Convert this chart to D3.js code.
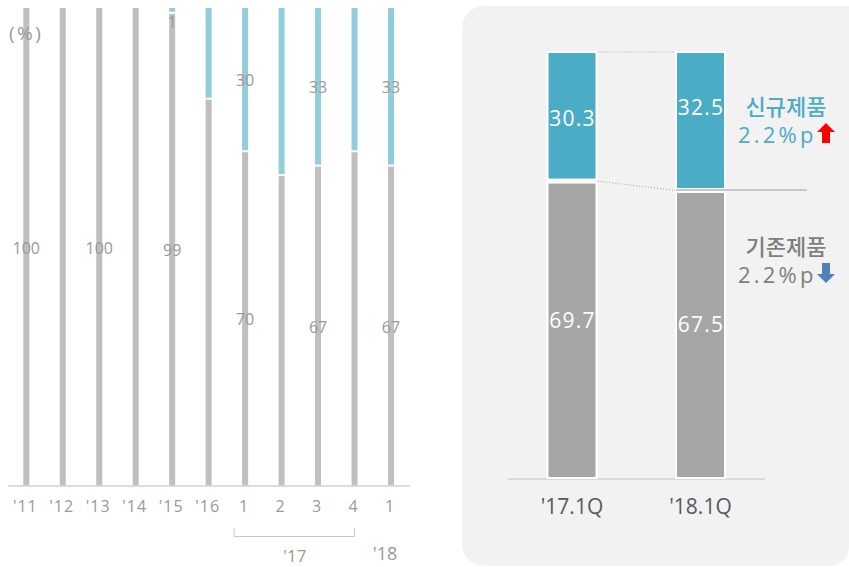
<!DOCTYPE html>
<html><head><meta charset="utf-8">
<script src="https://cdn.jsdelivr.net/npm/d3@7"></script>
<style>
body{margin:0;background:#fff;}
svg{display:block;}
</style></head><body>
<svg id="c" width="849" height="567"></svg>
<script>
// ---- Left chart data ----
const leftCats = ["'11","'12","'13","'14","'15","'16","1","2","3","4","1"];
const leftExisting = [100,100,100,100,99,81,70,65,67,70,67];
const leftNew      = [0,0,0,0,1,19,30,35,33,30,33];
const leftExistingLabels = ["100",null,"100",null,"99",null,"70",null,"67",null,"67"];
const leftNewLabels      = [null,null,null,null,"1",null,"30",null,"33",null,"33"];
const yearGroups = [{label:"'17", from:6, to:9}];
const yearSingle = [{label:"'18", at:10}];

// ---- Right chart data ----
const rightCats = ["'17.1Q","'18.1Q"];
const rightExisting = [69.7,67.5];
const rightNew = [30.3,32.5];
const notes = [
  {title:"신규제품", change:"2.2%p", dir:"up"},
  {title:"기존제품", change:"2.2%p", dir:"down"}
];

const svg = d3.select("#c");
const NUM_FONT = "'Open Sans', 'Noto Sans', sans-serif";
const KR_FONT = "'Noto Sans CJK KR', 'Noto Sans', sans-serif";

// ===== Left chart =====
const idx = d3.range(leftCats.length);
const xL = d3.scalePoint().domain(idx).range([26.3, 391]);
const yL = d3.scaleLinear().domain([0,100]).range([485.5, 8]);
const bw = 6;
const gL = svg.append("g");

// gray (existing)
gL.selectAll("rect.ex").data(idx).join("rect").attr("class","ex")
  .attr("x",i=>xL(i)-bw/2).attr("width",bw)
  .attr("y",i=>yL(leftExisting[i])+ (leftNew[i]>0?1:0))
  .attr("height",i=>yL(0)-yL(leftExisting[i])-(leftNew[i]>0?1:0))
  .attr("fill","#bfbfbf");
// blue (new)
gL.selectAll("rect.nw").data(idx.filter(i=>leftNew[i]>0)).join("rect").attr("class","nw")
  .attr("x",i=>xL(i)-bw/2).attr("width",bw)
  .attr("y",i=>yL(leftExisting[i]+leftNew[i]))
  .attr("height",i=>Math.max(1.5,yL(leftExisting[i])-yL(leftExisting[i]+leftNew[i])-1))
  .attr("fill","#92cddc");

gL.append("text").attr("x",9).attr("y",33).text("(%)")
  .attr("font-family",NUM_FONT).attr("font-size",19).attr("fill","#999").attr("letter-spacing",2.5)
  .attr("dominant-baseline","central");

// axis line
gL.append("line").attr("x1",8).attr("x2",410).attr("y1",486).attr("y2",486)
  .attr("stroke","#d0d0d0").attr("stroke-width",1.5);

const lblStyle = s => s.attr("font-family",NUM_FONT).attr("font-size",16).attr("fill","#999")
  .attr("text-anchor","middle").attr("dominant-baseline","central");

gL.selectAll("text.exl").data(idx.filter(i=>leftExistingLabels[i])).join("text").attr("class","exl")
  .attr("x",i=>xL(i)).attr("y",i=>(yL(leftExisting[i])+yL(0))/2+1)
  .text(i=>leftExistingLabels[i]).call(lblStyle);
gL.selectAll("text.nwl").data(idx.filter(i=>leftNewLabels[i])).join("text").attr("class","nwl")
  .attr("x",i=>xL(i)).attr("y",i=>Math.max(22,(yL(leftExisting[i])+yL(100))/2))
  .text(i=>leftNewLabels[i]).call(lblStyle);

// x tick labels
gL.selectAll("text.xt").data(idx).join("text").attr("class","xt")
  .attr("x",i=>xL(i)-1).attr("y",506).text(i=>leftCats[i]).call(lblStyle).attr("letter-spacing",1);

// bracket for '17
yearGroups.forEach(g=>{
  const x1 = xL(g.from)-11, x2 = xL(g.to);
  gL.append("path").attr("d",`M${x1},528V536.5H${x2}V528`)
    .attr("fill","none").attr("stroke","#c8c8c8").attr("stroke-width",1);
  gL.append("text").attr("x",(x1+x2)/2+0.5).attr("y",555).text(g.label).call(lblStyle).attr("font-size",17);
});
yearSingle.forEach(g=>{
  gL.append("text").attr("x",xL(g.at)-6).attr("y",553).text(g.label).call(lblStyle).attr("font-size",18);
});

// ===== Right panel =====
svg.append("path").attr("fill","#f2f2f2")
  .attr("d", (()=>{const x=462,y=6,w=400,h=560,r=22;
    return `M${x+r},${y}H${x+w}V${y+h}H${x+r}A${r},${r} 0 0 1 ${x},${y+h-r}V${y+r}A${r},${r} 0 0 1 ${x+r},${y}Z`;})());
svg.append("path").attr("fill","#fff")
  .attr("d","M849,546A20,20 0 0 1 829,566H849Z");

const gR = svg.append("g");
const xR = d3.scalePoint().domain(rightCats).range([572, 700.5]);
const yR = d3.scaleLinear().domain([0,100]).range([478, 52]);
const rbw = 49;

gR.append("line").attr("x1",508).attr("x2",765).attr("y1",479).attr("y2",479)
  .attr("stroke","#d9d9d9").attr("stroke-width",2);

rightCats.forEach((c,i)=>{
  const cx = xR(c);
  gR.append("rect").attr("x",cx-rbw/2).attr("width",rbw)
    .attr("y",yR(rightExisting[i])+1.5).attr("height",yR(0)-yR(rightExisting[i])-1.5)
    .attr("fill","#a6a6a6").attr("stroke","#fff").attr("stroke-width",2);
  gR.append("rect").attr("x",cx-rbw/2).attr("width",rbw)
    .attr("y",yR(100)).attr("height",yR(rightExisting[i])-yR(100)-1.5)
    .attr("fill","#4bacc6").attr("stroke","#fff").attr("stroke-width",2);
});

// connectors
const xa = xR(rightCats[0])+rbw/2+1, xb = xR(rightCats[1])-rbw/2-1;
gR.append("line").attr("x1",xa).attr("x2",xb).attr("y1",yR(100)).attr("y2",yR(100))
  .attr("stroke","#a0a0a0").attr("stroke-width",1).attr("stroke-dasharray","1,2");
gR.append("line").attr("x1",xa).attr("x2",xb).attr("y1",yR(rightExisting[0])).attr("y2",yR(rightExisting[1]))
  .attr("stroke","#a0a0a0").attr("stroke-width",1).attr("stroke-dasharray","1,2");
gR.append("line").attr("x1",xb+1).attr("x2",807).attr("y1",yR(rightExisting[1])-0.5).attr("y2",yR(rightExisting[1])-0.5)
  .attr("stroke","#c8c8c8").attr("stroke-width",2);

// value labels
const vStyle = s => s.attr("font-family",NUM_FONT).attr("font-size",21).attr("fill","#fff")
  .attr("text-anchor","middle").attr("dominant-baseline","central").attr("letter-spacing",1.2);
rightCats.forEach((c,i)=>{
  gR.append("text").attr("x",xR(c)+0.5).attr("y",(yR(100)+yR(rightExisting[i]))/2 + (i===0?1.5:-14))
    .text(rightNew[i].toFixed(1)).call(vStyle);
  gR.append("text").attr("x",xR(c)+0.5).attr("y",(yR(0)+yR(rightExisting[i]))/2 - 10)
    .text(rightExisting[i].toFixed(1)).call(vStyle);
  gR.append("text").attr("x",xR(c)).attr("y",506).text(c)
    .attr("font-family",NUM_FONT).attr("font-size",21).attr("fill","#595959")
    .attr("text-anchor","middle").attr("dominant-baseline","central");
});

// notes
const noteY = [105, 245];
notes.forEach((n,i)=>{
  const col = n.dir==="up" ? "#4bacc6" : "#7f7f7f";
  svg.append("text").attr("x",786).attr("y",noteY[i]).text(n.title)
    .attr("font-family",KR_FONT).attr("font-size",22).attr("font-weight",500).attr("fill",col)
    .attr("text-anchor","middle").attr("dominant-baseline","central");
  svg.append("text").attr("x",738).attr("y",noteY[i]+29).text(n.change)
    .attr("font-family",NUM_FONT).attr("font-size",22).attr("fill",col).attr("letter-spacing",3.2)
    .attr("dominant-baseline","central");
  const ax = 826, ay = noteY[i]+28;
  let d;
  if(n.dir==="up"){
    d = `M${ax},${ay-10}L${ax+9},${ay-1}H${ax+4}V${ay+10}H${ax-4}V${ay-1}H${ax-9}Z`;
  } else {
    d = `M${ax},${ay+10}L${ax+9},${ay+1}H${ax+4}V${ay-10}H${ax-4}V${ay+1}H${ax-9}Z`;
  }
  svg.append("path").attr("d",d).attr("fill", n.dir==="up" ? "#ff0000" : "#4f81bd");
});
</script>
</body></html>
